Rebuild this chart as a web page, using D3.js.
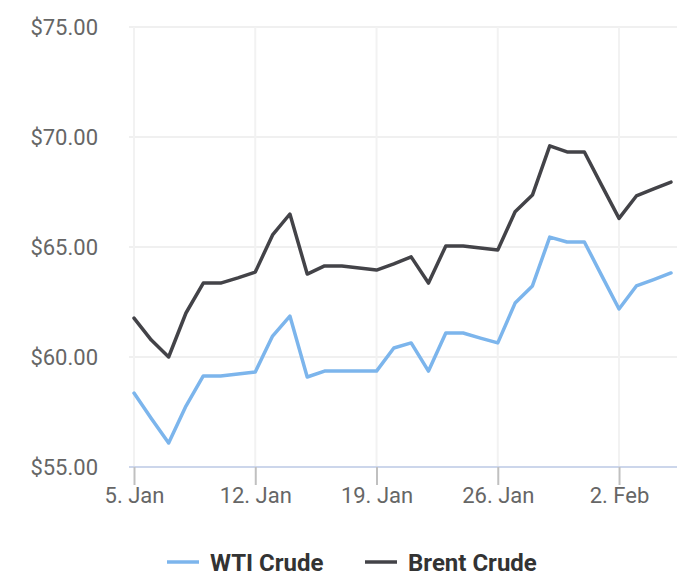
<!DOCTYPE html>
<html>
<head>
<meta charset="utf-8">
<script src="https://cdn.jsdelivr.net/npm/d3@7"></script>
<style>
  body { margin: 0; background: #fff; }
  text { font-family: Roboto, "Noto Sans", sans-serif; }
</style>
</head>
<body>
<svg id="chart" width="700" height="585"></svg>
<script>
var days = ["2020-01-05","2020-01-06","2020-01-07","2020-01-08","2020-01-09","2020-01-10","2020-01-11","2020-01-12",
  "2020-01-13","2020-01-14","2020-01-15","2020-01-16","2020-01-17","2020-01-18","2020-01-19","2020-01-20",
  "2020-01-21","2020-01-22","2020-01-23","2020-01-24","2020-01-25","2020-01-26","2020-01-27","2020-01-28",
  "2020-01-29","2020-01-30","2020-01-31","2020-02-01","2020-02-02","2020-02-03","2020-02-04","2020-02-05"];

var wti = [58.36, 57.2, 56.09, 57.77, 59.14, 59.14, 59.23, 59.32,
  60.95, 61.86, 59.09, 59.36, 59.36, 59.36, 59.36, 60.41,
  60.64, 59.36, 61.09, 61.09, 60.86, 60.64, 62.45, 63.23,
  65.45, 65.23, 65.23, 63.7, 62.18, 63.23, 63.52, 63.82];

var brent = [61.77, 60.77, 60.0, 62.0, 63.36, 63.36, 63.6, 63.86,
  65.55, 66.5, 63.77, 64.14, 64.14, 64.05, 63.95, 64.23,
  64.55, 63.36, 65.05, 65.05, 64.95, 64.86, 66.6, 67.36,
  69.6, 69.32, 69.32, 67.8, 66.3, 67.32, 67.64, 67.95];

var yTicks = [55, 60, 65, 70, 75];
var xTicks = ["2020-01-05","2020-01-12","2020-01-19","2020-01-26","2020-02-02"];
var seriesNames = ["WTI Crude", "Brent Crude"];
var colors = ["#7cb5ec", "#434348"];

var svg = d3.select("#chart");
var parse = d3.utcParse("%Y-%m-%d");
var dates = days.map(parse);

var x = d3.scaleUtc()
  .domain([dates[0], dates[dates.length - 1]])
  .range([134, 671]);
var y = d3.scaleLinear().domain([55, 75]).range([467, 27]);
var left = 129, right = 677;

// grid
svg.append("g").selectAll("line")
  .data(yTicks.slice(1))
  .enter().append("line")
  .attr("x1", left).attr("x2", right)
  .attr("y1", function(d) { return y(d); })
  .attr("y2", function(d) { return y(d); })
  .attr("stroke", "#f0f0f0").attr("stroke-width", 2);

svg.append("g").selectAll("line")
  .data(xTicks.map(parse))
  .enter().append("line")
  .attr("x1", function(d) { return x(d); })
  .attr("x2", function(d) { return x(d); })
  .attr("y1", y(75)).attr("y2", y(55))
  .attr("stroke", "#f2f2f2").attr("stroke-width", 2);

// y labels
svg.append("g").selectAll("text")
  .data(yTicks)
  .enter().append("text")
  .attr("x", 98)
  .attr("y", function(d) { return y(d) + 7.5; })
  .attr("text-anchor", "end")
  .attr("font-size", 22)
  .attr("fill", "#666")
  .text(function(d) { return "$" + d3.format(".2f")(d); });

// x axis
var xAxis = d3.axisBottom(x)
  .tickValues(xTicks.map(parse))
  .tickSize(18)
  .tickSizeOuter(0)
  .tickFormat(d3.utcFormat("%-d. %b"));

var gx = svg.append("g")
  .attr("transform", "translate(0," + y(55) + ")")
  .call(xAxis);
gx.select(".domain").attr("d", "M" + left + ",0H" + right).attr("stroke", "#ccd6eb").attr("stroke-width", 2);
gx.selectAll(".tick line").attr("stroke", "#c0c0c0").attr("stroke-width", 2);
gx.selectAll(".tick text")
  .attr("y", 20).attr("dy", "0.71em")
  .attr("font-size", 22)
  .attr("font-family", "Roboto, 'Noto Sans', sans-serif")
  .attr("fill", "#666");

// lines
var line = d3.line()
  .x(function(d, i) { return x(dates[i]); })
  .y(function(d) { return y(d); });

[wti, brent].forEach(function(s, i) {
  svg.append("path")
    .datum(s)
    .attr("d", line)
    .attr("fill", "none")
    .attr("stroke", colors[i])
    .attr("stroke-width", 3.5)
    .attr("stroke-linejoin", "round")
    .attr("stroke-linecap", "round");
});

// legend
var legendX = [167, 365];
var lg = svg.append("g").selectAll("g")
  .data(seriesNames)
  .enter().append("g")
  .attr("transform", function(d, i) { return "translate(" + legendX[i] + ",562)"; });
lg.append("line")
  .attr("x1", 0).attr("x2", 32)
  .attr("stroke", function(d, i) { return colors[i]; })
  .attr("stroke-width", 3.5);
lg.append("text")
  .attr("x", 43).attr("y", 8.5)
  .attr("font-size", 24)
  .attr("font-weight", "bold")
  .attr("fill", "#333")
  .text(function(d) { return d; });
</script>
</body>
</html>
